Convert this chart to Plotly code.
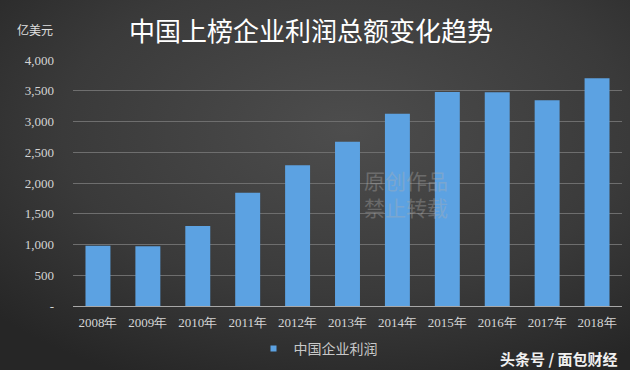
import base64
import plotly.graph_objects as go

years = ["2008年", "2009年", "2010年", "2011年", "2012年", "2013年",
         "2014年", "2015年", "2016年", "2017年", "2018年"]
profits = [980, 970, 1300, 1840, 2290, 2670, 3125, 3480, 3475, 3345, 3705]
series_name = "中国企业利润"
y_tickvals = [0, 500, 1000, 1500, 2000, 2500, 3000, 3500, 4000]
y_ticktext = ["-", "500", "1,000", "1,500", "2,000", "2,500", "3,000", "3,500", "4,000"]

W, H = 630, 370
L, R, T, B = 73, 8, 60, 64
pw, ph = W - L - R, H - T - B
BAR_COLOR = "#5ca2e2"

svg = f'''<svg xmlns="http://www.w3.org/2000/svg" width="{W}" height="{H}">
<defs><radialGradient id="g" cx="0.55" cy="0.35" r="0.75">
<stop offset="0" stop-color="#4d4d4d"/><stop offset="0.6" stop-color="#3a3a3a"/>
<stop offset="1" stop-color="#262626"/></radialGradient></defs>
<rect width="{W}" height="{H}" fill="url(#g)"/></svg>'''
bg = "data:image/svg+xml;base64," + base64.b64encode(svg.encode()).decode()

fig = go.Figure()
fig.add_trace(go.Bar(
    x=years, y=profits, name=series_name, showlegend=False,
    marker=dict(color=BAR_COLOR, line=dict(width=0)),
))
# legend entry with a small square symbol, as in the reference
fig.add_trace(go.Scatter(
    x=[None], y=[None], mode="markers", name=series_name,
    marker=dict(symbol="square", size=6, color=BAR_COLOR),
))

fig.update_layout(
    width=W, height=H,
    margin=dict(l=L, r=R, t=T, b=B, pad=0, autoexpand=False),
    paper_bgcolor="#363636",
    plot_bgcolor="rgba(0,0,0,0)",
    bargap=0.5,
    showlegend=True,
    legend=dict(orientation="h", xref="container", yref="container",
                x=318 / W, xanchor="center", y=(H - 333) / H, yanchor="top",
                font=dict(family="Noto Sans CJK SC", size=14, color="#c8c8c8"),
                bgcolor="rgba(0,0,0,0)", itemwidth=30),
    font=dict(family="Liberation Serif", color="#d4d4d4"),
    images=[dict(source=bg, xref="paper", yref="paper",
                 x=-L / pw, y=1 + T / ph, sizex=W / pw, sizey=H / ph,
                 xanchor="left", yanchor="top", sizing="stretch", layer="below")],
)

fig.update_xaxes(
    showgrid=False, showline=True, linecolor="#a8a8a8", linewidth=1,
    ticks="", tickfont=dict(family="Liberation Serif", size=13, color="#d4d4d4"),
    ticklabelstandoff=4, automargin=False,
)
fig.update_yaxes(
    range=[0, 4000], tickvals=y_tickvals, ticktext=y_ticktext,
    showgrid=True, gridcolor="#6e6e6e", gridwidth=1, zeroline=False,
    showline=False, ticks="", automargin=False,
    tickfont=dict(family="Liberation Serif", size=13, color="#d4d4d4"),
    ticklabelstandoff=18,
)

fig.add_annotation(text="中国上榜企业利润总额变化趋势", xref="paper", yref="paper",
                   x=(311 - L) / pw, y=1 + (T - 30) / ph, xanchor="center", yanchor="middle",
                   showarrow=False,
                   font=dict(family="Noto Sans CJK SC", size=26, color="#ffffff"))
fig.add_annotation(text="亿美元", xref="paper", yref="paper",
                   x=(35 - L) / pw, y=1 + (T - 30) / ph, xanchor="center", yanchor="middle",
                   showarrow=False,
                   font=dict(family="Noto Sans CJK SC", size=12, color="#e0e0e0"))
fig.add_annotation(text="<b>头条号 / 面包财经</b>", xref="paper", yref="paper",
                   x=(620 - L) / pw, y=-(358 - T - ph) / ph, xanchor="right", yanchor="middle",
                   showarrow=False,
                   font=dict(family="Noto Sans CJK SC", size=15, color="#f0f0f0"))
fig.add_annotation(text="原创作品<br>禁止转载", xref="paper", yref="paper",
                   x=(362 - L) / pw, y=-(193 - T - ph) / ph, xanchor="left", yanchor="middle",
                   showarrow=False, opacity=0.35,
                   font=dict(family="Noto Sans CJK SC", size=21, color="#b0b0b0"))

fig.write_html("out.html", config={"displayModeBar": False},
               post_script="document.body.style.margin='0';document.body.style.overflow='hidden';")
